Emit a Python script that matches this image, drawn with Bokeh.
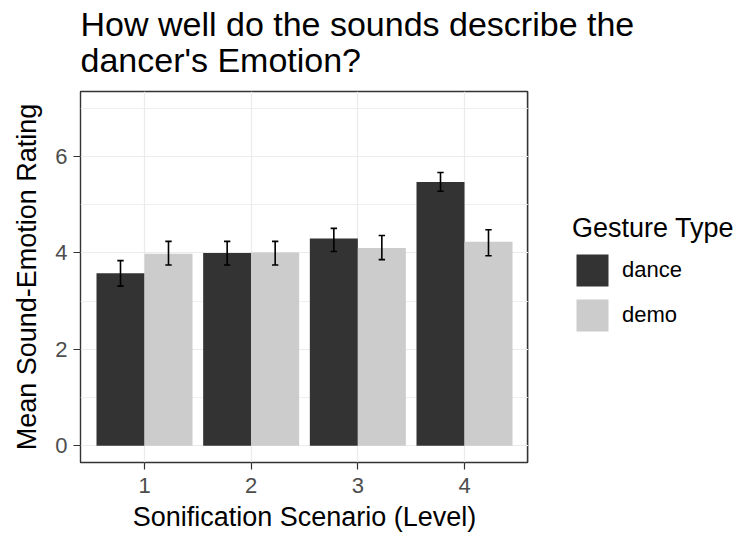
from bokeh.plotting import figure
from bokeh.layouts import row, column
from bokeh.models import (ColumnDataSource, FixedTicker, Legend, LegendItem,
                          Range1d)
from bokeh.embed import file_html
from bokeh.resources import INLINE

# Sonification scenario levels and mean ratings per gesture type
levels = [1, 2, 3, 4]
tick_labels = ["1", "2", "3", "4"]
gesture_types = ["dance", "demo"]

dance_mean = [3.58, 4.00, 4.30, 5.47]
dance_low = [3.31, 3.75, 4.03, 5.28]
dance_high = [3.84, 4.24, 4.51, 5.67]

demo_mean = [3.98, 4.01, 4.10, 4.23]
demo_low = [3.75, 3.75, 3.86, 3.94]
demo_high = [4.24, 4.24, 4.36, 4.48]

title_lines = ["How well do the sounds describe the", "dancer's Emotion?"]

fill_colors = ["#333333", "#CCCCCC"]

FONT = "Liberation Sans"
dodge_width = 0.9
bar_w = dodge_width / 2
cap_half = 0.03

TOTAL_W, TOTAL_H = 744, 537
HEADER_H = 90
LEFT_W = 528


def blank(fig):
    fig.title = None
    fig.axis.visible = False
    fig.grid.visible = False
    fig.outline_line_color = None
    fig.background_fill_color = "white"
    fig.border_fill_color = "white"


# header strip holding the two-line title
hdr = figure(width=TOTAL_W, height=HEADER_H, output_backend="svg", toolbar_location=None,
             x_range=Range1d(0, TOTAL_W), y_range=Range1d(HEADER_H, 0), min_border=0)
blank(hdr)
hdr.text(x=[80, 80], y=[23, 59], text=title_lines, text_font_size="34px",
         text_color="black", text_baseline="alphabetic", text_align="left",
         text_font={"value": FONT})

# main chart
p = figure(width=LEFT_W, height=TOTAL_H - HEADER_H, output_backend="svg",
           toolbar_location=None,
           x_range=Range1d(0.4, 4.6), y_range=Range1d(-0.35, 7.35),
           min_border_left=80, min_border_right=0,
           min_border_top=1, min_border_bottom=75)
p.title = None

series = [
    (dance_mean, dance_low, dance_high, -bar_w / 2),
    (demo_mean, demo_low, demo_high, bar_w / 2),
]

for (mean, low, high, off), color in zip(series, fill_colors):
    xs = [lv + off for lv in levels]
    src = ColumnDataSource(dict(x=xs, top=mean, low=low, high=high,
                                x0=[x - cap_half for x in xs],
                                x1=[x + cap_half for x in xs]))
    p.vbar(x="x", top="top", bottom=0, width=bar_w, source=src,
           fill_color=color, line_color=None)
    p.segment(x0="x", y0="low", x1="x", y1="high", source=src,
              line_color="black", line_width=1.6)
    p.segment(x0="x0", y0="low", x1="x1", y1="low", source=src,
              line_color="black", line_width=1.6)
    p.segment(x0="x0", y0="high", x1="x1", y1="high", source=src,
              line_color="black", line_width=1.6)

p.background_fill_color = "white"
p.border_fill_color = "white"
p.outline_line_color = "#333333"
p.outline_line_width = 1.4

p.xaxis.ticker = FixedTicker(ticks=levels)
p.xaxis.major_label_overrides = {lv: t for lv, t in zip(levels, tick_labels)}
p.yaxis.ticker = FixedTicker(ticks=[0, 2, 4, 6], minor_ticks=[1, 3, 5, 7])

for ax in (p.xaxis, p.yaxis):
    ax.axis_line_color = None
    ax.major_tick_line_color = "#333333"
    ax.major_tick_line_width = 1.2
    ax.major_tick_out = 7
    ax.major_tick_in = 0
    ax.minor_tick_line_color = None
    ax.major_label_text_font = FONT
    ax.major_label_text_font_size = "22px"
    ax.major_label_text_color = "#4D4D4D"
    ax.axis_label_text_font = FONT
    ax.axis_label_text_font_size = "27px"
    ax.axis_label_text_font_style = "normal"
    ax.axis_label_text_color = "black"
    ax.major_label_standoff = 6

p.xaxis.major_label_standoff = 8
p.xaxis.axis_label = "Sonification Scenario (Level)"
p.yaxis.axis_label = "Mean Sound-Emotion Rating"
p.xaxis.axis_label_standoff = 6
p.yaxis.axis_label_standoff = 10

p.xgrid.grid_line_color = "#EBEBEB"
p.xgrid.grid_line_width = 1.2
p.ygrid.grid_line_color = "#EBEBEB"
p.ygrid.grid_line_width = 1.2
p.ygrid.minor_grid_line_color = "#EBEBEB"
p.ygrid.minor_grid_line_width = 0.8
p.xgrid.level = "underlay"
p.ygrid.level = "underlay"

# legend panel to the right of the chart; its key glyphs sit outside the view
lg = figure(width=TOTAL_W - LEFT_W, height=TOTAL_H - HEADER_H, output_backend="svg",
            toolbar_location=None, x_range=Range1d(100, 101), y_range=Range1d(0, 1),
            min_border=0)
blank(lg)

key_renderers = [lg.vbar(x=levels, top=vals, width=bar_w, fill_color=c, line_color=None)
                 for vals, c in zip([dance_mean, demo_mean], fill_colors)]

legend = Legend(
    items=[LegendItem(label=g, renderers=[r]) for g, r in zip(gesture_types, key_renderers)],
    title="Gesture Type", location=(44, 127),
    title_text_font=FONT, title_text_font_size="27px", title_text_font_style="normal",
    title_text_color="black", title_standoff=6,
    label_text_font=FONT, label_text_font_size="22px", label_text_color="black",
    glyph_width=40, glyph_height=40, label_height=40, label_standoff=10, spacing=5,
    padding=0, margin=0, border_line_color=None, background_fill_alpha=0,
)
lg.add_layout(legend, "center")

layout = column(hdr, row(p, lg, spacing=0), spacing=0)
open("out.html", "w").write(file_html(layout, INLINE))
